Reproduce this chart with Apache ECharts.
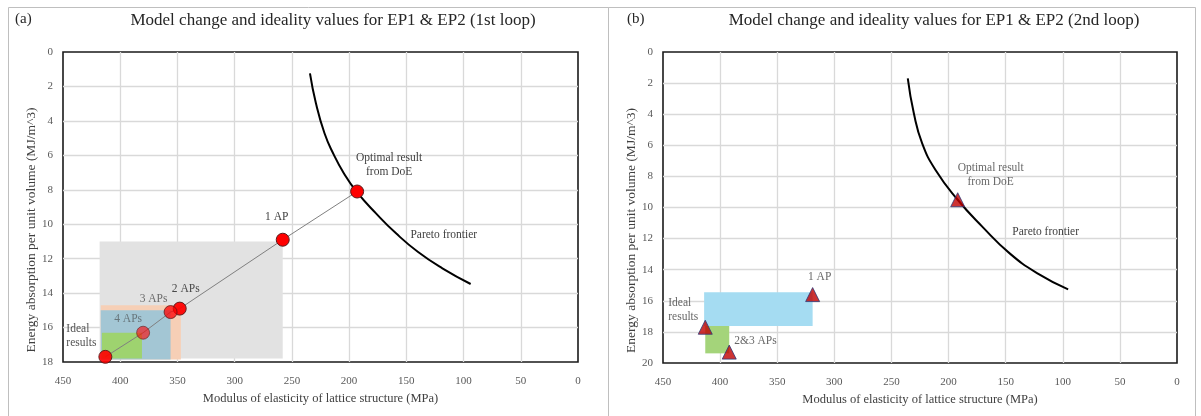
<!DOCTYPE html>
<html>
<head>
<meta charset="utf-8">
<script src="https://cdn.jsdelivr.net/npm/echarts@6/dist/echarts.min.js"></script>
<style>
html,body{margin:0;padding:0;background:#fff;}
#c{width:1201px;height:416px;}
</style>
</head>
<body>
<div id="c"></div>
<script>
// ---------- DATA ----------
const titleA = 'Model change and ideality values for EP1 & EP2 (1st loop)';
const titleB = 'Model change and ideality values for EP1 & EP2 (2nd loop)';
const xAxisName = 'Modulus of elasticity of lattice structure (MPa)';
const yAxisName = 'Energy absorption per unit volume (MJ/m^3)';
const xRange = [0, 450];
const xStep = 50;
const yRangeA = [0, 18];
const yRangeB = [0, 20];
const yStep = 2;

// Panel (a) points
const pointNamesA = ['Optimal result\nfrom DoE', '1 AP', '2 APs', '3 APs', '4 APs', 'Ideal\nresults'];
const pointModulusA = [193, 258, 348, 356, 380, 413];
const pointEnergyA = [8.1, 10.9, 14.9, 15.1, 16.3, 17.7];

// Panel (a) Pareto frontier
const paretoModulusA = [234.2, 229.0, 221.5, 214.0, 204.5, 193.5, 176.5, 159.0, 140.0, 118.5, 93.8];
const paretoEnergyA = [1.24, 2.98, 4.72, 5.88, 7.05, 8.11, 9.37, 10.53, 11.6, 12.56, 13.47];

// Panel (a) shaded boxes (1 AP, 2 APs, 3 APs, 4 APs)
const boxModulusFromA = [418, 417, 417, 416];
const boxModulusToA = [258, 347, 356, 381];
const boxEnergyFromA = [11.0, 14.7, 15.0, 16.3];
const boxEnergyToA = [17.8, 17.85, 17.85, 17.8];

// Panel (b) points
const pointNamesB = ['Optimal result\nfrom DoE', '1 AP', 'Ideal\nresults', '2&3 APs'];
const pointModulusB = [192, 319, 413, 392];
const pointEnergyB = [9.5, 15.6, 17.7, 19.3];

// Panel (b) Pareto frontier
const paretoModulusB = [235.7, 230.4, 223.1, 211.4, 192.4, 170.5, 146.5, 122.2, 95.3];
const paretoEnergyB = [1.69, 3.94, 5.87, 7.59, 9.47, 11.23, 12.95, 14.23, 15.26];

// Panel (b) shaded boxes (1 AP, 2&3 APs)
const boxModulusFromB = [414, 413];
const boxModulusToB = [319, 392];
const boxEnergyFromB = [15.45, 17.62];
const boxEnergyToB = [17.62, 19.38];

// ---------- STYLE ----------
const serif = "'Liberation Serif', 'DejaVu Serif', serif";
const txtColor = '#404040';
const boxColorsA = ['#e2e2e2', '#f6cfb6', '#a3c6d4', '#9ed36f'];
const boxColorsB = ['#a5dcf2', '#a4d47a'];
const labelOffsetsA = [[32, -27], [-6, -23], [6, -20], [-17, -13], [-15, -14], [-39, -21]];
const labelAlignA = ['center', 'center', 'center', 'center', 'center', 'left'];
const pointOpacityA = [1, 1, 0.95, 0.75, 0.6, 0.9];
const labelOffsetsB = [[33, -25], [7, -18], [-37, -17], [5, -11]];
const labelAlignB = ['center', 'center', 'left', 'left'];

const grids = [
  {left: 63, top: 52, width: 515, height: 310},
  {left: 663, top: 52, width: 514, height: 311}
];

function zip(a, b) { return a.map((v, i) => [v, b[i]]); }

function boxData(x1, x2, y1, y2) {
  return x1.map((v, i) => [v, y1[i], x2[i], y2[i]]);
}

function boxSeries(idx, data, colors, z) {
  return {
    type: 'custom', xAxisIndex: idx, yAxisIndex: idx, z: z, silent: true,
    data: data,
    renderItem: function (params, api) {
      const p1 = api.coord([api.value(0), api.value(1)]);
      const p2 = api.coord([api.value(2), api.value(3)]);
      return {
        type: 'rect',
        shape: {x: Math.min(p1[0], p2[0]), y: Math.min(p1[1], p2[1]),
                width: Math.abs(p2[0] - p1[0]), height: Math.abs(p2[1] - p1[1])},
        style: {fill: colors[params.dataIndex]}
      };
    }
  };
}

function makeXAxis(idx) {
  return {
    gridIndex: idx, type: 'value', inverse: true, min: xRange[0], max: xRange[1], interval: xStep,
    name: xAxisName, nameLocation: 'middle', nameGap: 27,
    nameTextStyle: {fontFamily: serif, fontSize: 12.5, color: txtColor},
    axisLine: {show: false}, axisTick: {show: false},
    axisLabel: {fontFamily: serif, fontSize: 11, color: '#595959', margin: 14},
    splitLine: {show: true, showMinLine: false, showMaxLine: false, lineStyle: {color: '#d9d9d9', width: 1.3}}
  };
}
function makeYAxis(idx, range) {
  return {
    gridIndex: idx, type: 'value', inverse: true, min: range[0], max: range[1], interval: yStep,
    name: yAxisName, nameLocation: 'middle', nameGap: 25,
    nameTextStyle: {fontFamily: serif, fontSize: 13.5, color: txtColor, padding: [0, 46, 0, 0]},
    axisLine: {show: false}, axisTick: {show: false},
    axisLabel: {fontFamily: serif, fontSize: 11, color: '#595959', margin: 10},
    splitLine: {show: true, showMinLine: false, showMaxLine: false, lineStyle: {color: '#d9d9d9', width: 1.3}}
  };
}

function labelStyle(text, offset, align) {
  return {
    show: true, position: 'inside', offset: offset, align: align,
    formatter: text, fontFamily: serif, fontSize: 11.5, color: txtColor, lineHeight: 14
  };
}

const pointsA = pointModulusA.map((x, i) => ({
  value: [x, pointEnergyA[i]], name: pointNamesA[i],
  itemStyle: {opacity: pointOpacityA[i]},
  label: labelStyle(pointNamesA[i], labelOffsetsA[i], labelAlignA[i])
}));
const pointsB = pointModulusB.map((x, i) => ({
  value: [x, pointEnergyB[i]], name: pointNamesB[i],
  label: labelStyle(pointNamesB[i], labelOffsetsB[i], labelAlignB[i])
}));

function paretoSeries(idx, xs, ys, labelIdx, offset) {
  return {
    type: 'line', xAxisIndex: idx, yAxisIndex: idx, z: 2,
    data: zip(xs, ys), smooth: 0.5, showSymbol: false, silent: true,
    lineStyle: {color: '#000', width: 2},
    markPoint: {
      symbol: 'circle', symbolSize: 1, itemStyle: {color: 'rgba(0,0,0,0)'},
      data: [{coord: [xs[labelIdx], ys[labelIdx]],
              label: labelStyle('Pareto frontier', offset, 'center')}]
    }
  };
}

const titleStyle = {fontFamily: serif, fontSize: 17, fontWeight: 'normal', color: '#262626'};
const option = {
  animation: false,
  backgroundColor: '#fff',
  title: [
    {text: '(a)', left: 15, top: 12, padding: 0, textStyle: Object.assign({}, titleStyle, {fontSize: 15})},
    {text: titleA, left: 333, top: 12, padding: 0, textAlign: 'center', textStyle: titleStyle},
    {text: '(b)', left: 627, top: 12, padding: 0, textStyle: Object.assign({}, titleStyle, {fontSize: 15})},
    {text: titleB, left: 934, top: 12, padding: 0, textAlign: 'center', textStyle: titleStyle}
  ],
  graphic: [
    {type: 'rect', shape: {x: 8.5, y: 7.5, width: 600, height: 430}, style: {fill: 'none', stroke: '#bfbfbf', lineWidth: 1}, silent: true, z: -1},
    {type: 'rect', shape: {x: 608.5, y: 7.5, width: 587, height: 430}, style: {fill: 'none', stroke: '#bfbfbf', lineWidth: 1}, silent: true, z: -1}
  ],
  grid: grids.map(g => Object.assign({show: true, borderColor: '#1a1a1a', borderWidth: 1.6, backgroundColor: 'transparent'}, g)),
  xAxis: [makeXAxis(0), makeXAxis(1)],
  yAxis: [makeYAxis(0, yRangeA), makeYAxis(1, yRangeB)],
  series: [
    boxSeries(0, boxData(boxModulusFromA, boxModulusToA, boxEnergyFromA, boxEnergyToA), boxColorsA, 1),
    paretoSeries(0, paretoModulusA, paretoEnergyA, 8, [26, -17]),
    {
      type: 'line', xAxisIndex: 0, yAxisIndex: 0, z: 2, silent: true,
      data: zip(pointModulusA, pointEnergyA), showSymbol: false,
      lineStyle: {color: '#808080', width: 1}
    },
    {
      type: 'scatter', xAxisIndex: 0, yAxisIndex: 0, z: 3,
      data: pointsA, symbol: 'circle', symbolSize: 13,
      itemStyle: {color: '#ff0000', borderColor: '#5a1a1a', borderWidth: 1}
    },
    boxSeries(1, boxData(boxModulusFromB, boxModulusToB, boxEnergyFromB, boxEnergyToB), boxColorsB, 1),
    paretoSeries(1, paretoModulusB, paretoEnergyB, 6, [36, -21]),
    {
      type: 'scatter', xAxisIndex: 1, yAxisIndex: 1, z: 3,
      data: pointsB, symbol: 'triangle', symbolSize: 14,
      itemStyle: {color: '#c00000', borderColor: '#2f3a78', borderWidth: 1}
    }
  ]
};

const chart = echarts.init(document.getElementById('c'), null, {renderer: 'canvas'});
chart.setOption(option);
</script>
</body>
</html>
